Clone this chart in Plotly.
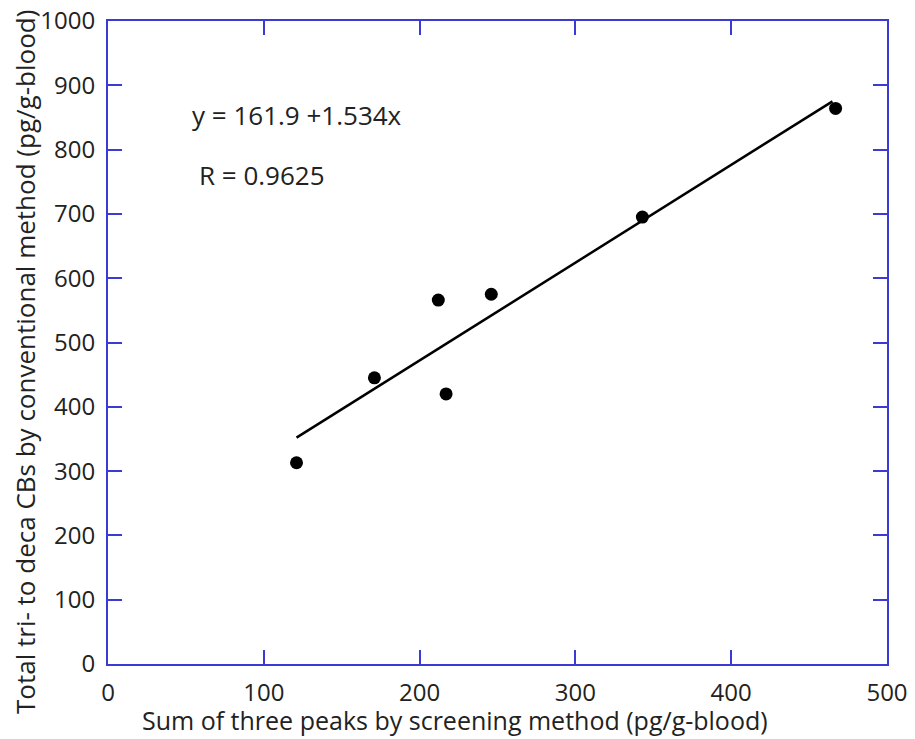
import plotly.graph_objects as go

screening = [121, 171, 212, 217, 246, 343, 467]
conventional = [313, 445, 566, 420, 575, 695, 864]

# regression line endpoints (y = 161.9 + 1.534x)
fit_x = [121, 465]
fit_y = [352, 875]

x_ticks = [0, 100, 200, 300, 400, 500]
y_ticks = [0, 100, 200, 300, 400, 500, 600, 700, 800, 900, 1000]

axis_blue = "#3a3ad4"
text_color = "#222222"
font_family = "'Open Sans', sans-serif"

# plot box in pixels (matches the reference)
L, R, T, B = 108, 887, 21, 664
W, H = 915, 739


def px_x(p):
    return (p - L) / (R - L)


def px_y(p):
    return (B - p) / (B - T)


fig = go.Figure()

fig.add_trace(go.Scatter(
    x=fit_x, y=fit_y,
    mode='lines', line=dict(color='black', width=2.5),
    showlegend=False
))

fig.add_trace(go.Scatter(
    x=screening, y=conventional,
    mode='markers', marker=dict(color='black', size=13, symbol='circle'),
    showlegend=False
))

fig.update_layout(
    width=W, height=H,
    paper_bgcolor='white', plot_bgcolor='white',
    margin=dict(l=L, r=W - R, t=T, b=H - B, autoexpand=False),
    font=dict(family=font_family, color=text_color),
    showlegend=False
)

# equation and correlation text
fig.add_annotation(x=px_x(190), y=px_y(115), xref='paper', yref='paper', text="y = 161.9 +1.534x",
                   showarrow=False, xanchor='left', yanchor='middle',
                   font=dict(size=26, color=text_color))
fig.add_annotation(x=px_x(197), y=px_y(175), xref='paper', yref='paper', text="R = 0.9625",
                   showarrow=False, xanchor='left', yanchor='middle',
                   font=dict(size=26, color=text_color))

# axis titles placed as annotations to match the offset in the original
fig.add_annotation(x=px_x(455), y=px_y(720), xref='paper', yref='paper',
                   text="Sum of three peaks by screening method (pg/g-blood)",
                   showarrow=False, xanchor='center', yanchor='middle',
                   font=dict(size=25, color=text_color))
fig.add_annotation(x=px_x(25), y=px_y(362), xref='paper', yref='paper',
                   text="Total tri- to deca CBs by conventional method (pg/g-blood)",
                   showarrow=False, textangle=-90, xanchor='center', yanchor='middle',
                   font=dict(size=26, color=text_color))

fig.update_xaxes(
    range=[0, 500], tickvals=x_ticks, showgrid=False, zeroline=False,
    showline=True, linecolor=axis_blue, linewidth=2, mirror='ticks',
    ticks='inside', ticklen=14, tickwidth=2, tickcolor=axis_blue,
    ticklabelstandoff=6, automargin=False,
    tickfont=dict(size=24, color=text_color)
)
fig.update_yaxes(
    range=[0, 1000], tickvals=y_ticks, showgrid=False, zeroline=False,
    showline=True, linecolor=axis_blue, linewidth=2, mirror='ticks',
    ticks='inside', ticklen=14, tickwidth=2, tickcolor=axis_blue,
    ticklabelstandoff=6, automargin=False,
    tickfont=dict(size=24, color=text_color)
)

# the page body has a default 8px margin; remove it so the figure sits at the corner
fig.write_html("out.html", config={'displayModeBar': False},
               post_script="document.body.style.margin='0';")
